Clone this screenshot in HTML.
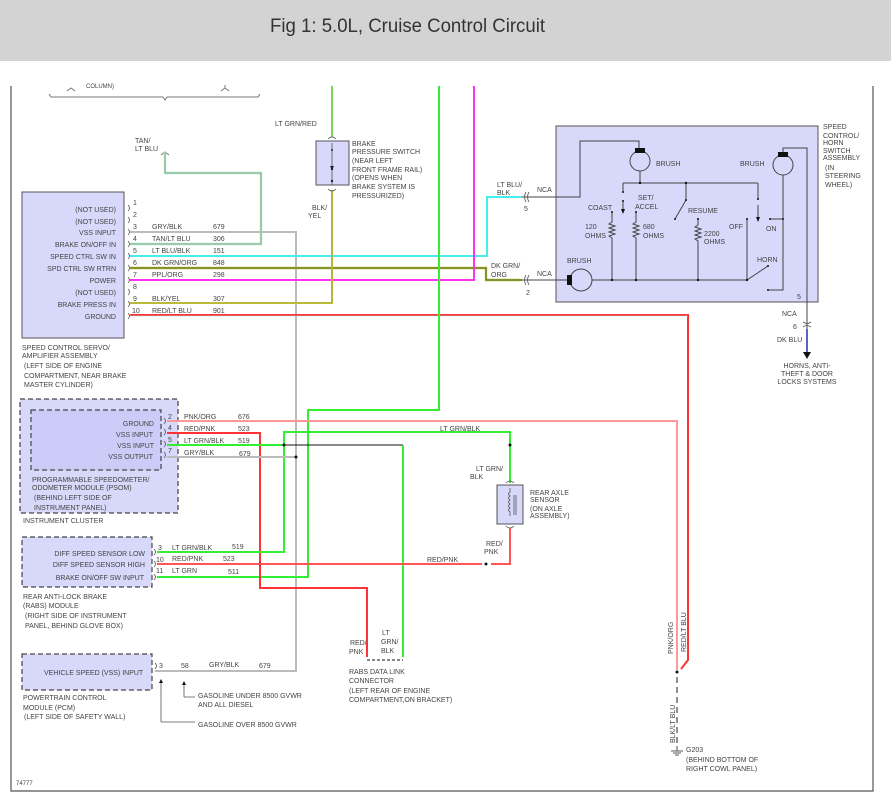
<!DOCTYPE html>
<html><head><meta charset="utf-8"><style>
html,body{margin:0;padding:0;background:#fff}
svg{display:block}
text{font-family:"Liberation Sans",sans-serif;font-size:7px;fill:#444}
</style></head><body>
<svg width="891" height="802" viewBox="0 0 891 802" xmlns="http://www.w3.org/2000/svg">
<rect x="0" y="0" width="891" height="61" fill="#d3d3d3"/>
<text x="270" y="32" style="font-size:19px;fill:#333" textLength="275" lengthAdjust="spacingAndGlyphs">Fig 1: 5.0L, Cruise Control Circuit</text>
<!-- frame -->
<path d="M11 86V791H873V86" fill="none" stroke="#555" stroke-width="1.2"/>

<!-- top bracket -->
<path d="M49 94l2 3H163l2 3 2-3H258l2-3" fill="none" stroke="#777" stroke-width="1"/>
<path d="M67 91l4-3 4 3M221 91l4-3 4 3M225 88v-3M161 155l4-3 4 3" fill="none" stroke="#777" stroke-width="1"/>
<text x="86" y="88" style="font-size:6px">COLUMN)</text>

<!-- servo box -->
<rect x="22" y="192" width="102" height="146" fill="#d8d8fb" stroke="#555" stroke-width="1"/>
<g text-anchor="end">
<text x="116" y="212">(NOT USED)</text><text x="116" y="224">(NOT USED)</text><text x="116" y="235">VSS INPUT</text>
<text x="116" y="247">BRAKE ON/OFF IN</text><text x="116" y="259">SPEED CTRL SW IN</text><text x="116" y="271">SPD CTRL SW RTRN</text>
<text x="116" y="283">POWER</text><text x="116" y="295">(NOT USED)</text><text x="116" y="307">BRAKE PRESS IN</text><text x="116" y="319">GROUND</text>
</g>
<g fill="none" stroke="#555" stroke-width="0.8">
<path d="M128 205q3 3 0 6M128 217q3 3 0 6M128 229q3 3 0 6M128 241q3 3 0 6M128 253q3 3 0 6M128 265q3 3 0 6M128 277q3 3 0 6M128 289q3 3 0 6M128 301q3 3 0 6M128 313q3 3 0 6"/>
</g>
<g>
<text x="133" y="205">1</text><text x="133" y="217">2</text><text x="133" y="229">3</text><text x="133" y="241">4</text><text x="133" y="253">5</text>
<text x="133" y="265">6</text><text x="133" y="277">7</text><text x="133" y="289">8</text><text x="133" y="301">9</text><text x="132" y="313">10</text>
<text x="152" y="229">GRY/BLK</text><text x="213" y="229">679</text>
<text x="152" y="241">TAN/LT BLU</text><text x="213" y="241">306</text>
<text x="152" y="253">LT BLU/BLK</text><text x="213" y="253">151</text>
<text x="152" y="265">DK GRN/ORG</text><text x="213" y="265">848</text>
<text x="152" y="277">PPL/ORG</text><text x="213" y="277">298</text>
<text x="152" y="301">BLK/YEL</text><text x="213" y="301">307</text>
<text x="152" y="313">RED/LT BLU</text><text x="213" y="313">901</text>
</g>
<text x="22" y="350">SPEED CONTROL SERVO/</text><text x="22" y="358">AMPLIFIER ASSEMBLY</text>
<text x="24" y="368">(LEFT SIDE OF ENGINE</text><text x="24" y="378">COMPARTMENT, NEAR BRAKE</text><text x="24" y="387">MASTER CYLINDER)</text>

<!-- wires from servo -->
<path d="M130 232H296V671H155" fill="none" stroke="#bbb" stroke-width="2"/>
<path d="M130 244H261V173H165V152" fill="none" stroke="#9ee" stroke-width="2.4"/>
<path d="M130 244H261V173H165V152" fill="none" stroke="#a98f3a" stroke-width="0.8"/>
<path d="M130 256H487V197H522" fill="none" stroke="#4ee" stroke-width="2"/>
<path d="M130 268H486V280H522" fill="none" stroke="#d8b040" stroke-width="2.4"/>
<path d="M130 268H486V280H522" fill="none" stroke="#2a7a1a" stroke-width="1"/>
<path d="M130 280H474V86" fill="none" stroke="#f3e" stroke-width="2"/>
<path d="M130 303H332V190" fill="none" stroke="#dd3" stroke-width="2"/>
<path d="M130 303H332V190" fill="none" stroke="#555" stroke-width="0.6"/>
<path d="M130 315H688V660L681 669" fill="none" stroke="#f33" stroke-width="2"/>
<path d="M130 316H688" fill="none" stroke="#9ee" stroke-width="0.6"/>
<!-- LT GRN/RED -->
<path d="M332 86V137" fill="none" stroke="#5e4" stroke-width="2"/>
<path d="M332 86V137" fill="none" stroke="#e88" stroke-width="0.5"/>
<text x="275" y="126">LT GRN/RED</text>
<text x="135" y="143">TAN/</text><text x="135" y="151">LT BLU</text>
<!-- brake switch -->
<rect x="316" y="141" width="33" height="44" fill="#d8d8fb" stroke="#555" stroke-width="1"/>
<path d="M328 139q4-4 8 0M328 189q4 4 8 0M332 143V185" fill="none" stroke="#555" stroke-width="0.8"/>
<circle cx="332" cy="169" r="1.2" fill="#222"/><circle cx="332" cy="181" r="1.2" fill="#222"/><circle cx="332" cy="150" r="1" fill="#222"/>
<path d="M330 166l2 4 2-4z" fill="#222"/>
<text x="352" y="146">BRAKE</text><text x="352" y="154">PRESSURE SWITCH</text><text x="352" y="163">(NEAR LEFT</text>
<text x="352" y="172">FRONT FRAME RAIL)</text><text x="352" y="180">(OPENS WHEN</text><text x="352" y="189">BRAKE SYSTEM IS</text><text x="352" y="198">PRESSURIZED)</text>
<text x="312" y="210">BLK/</text><text x="308" y="218">YEL</text>
<!-- green big -->
<path d="M439 86V410H308V577H157" fill="none" stroke="#3e3" stroke-width="2"/>

<!-- switch assembly -->
<rect x="556" y="126" width="262" height="176" fill="#d8d8fb" stroke="#555" stroke-width="1"/>
<g fill="none" stroke="#444" stroke-width="1">
<path d="M522 197H580V141H639V149"/>
<path d="M522 280H567"/>
<circle cx="640" cy="161" r="10"/>
<path d="M640 171V183M623 183H758M623 183V192M623 201V212"/>
<path d="M612 212V222l-3 2 6 2-6 2 6 2-6 2 6 2-6 2 3 2V280"/>
<path d="M636 212V222l-3 2 6 2-6 2 6 2-6 2 6 2-6 2 3 2V280"/>
<path d="M686 183V200L675 219"/>
<path d="M698 219V225l-3 2 6 2-6 2 6 2-6 2 6 2-6 2 3 2V280"/>
<path d="M747 219V280M592 280H747L768 266"/>
<path d="M758 183V199M758 205V220M770 219H783"/>
<circle cx="783" cy="165" r="10"/>
<circle cx="581" cy="280" r="11"/>
<path d="M783 153V148H807V358M783 175V290H768"/>
</g>
<rect x="635" y="148" width="10" height="5" fill="#111"/>
<rect x="778" y="152" width="10" height="5" fill="#111"/>
<rect x="567" y="275" width="5" height="10" fill="#111"/>
<path d="M621 209l2 5 2-5zM756 217l2 5 2-5z" fill="#111"/>
<g fill="#111">
<circle cx="640" cy="183" r="1.2"/><circle cx="686" cy="183" r="1.2"/><circle cx="623" cy="201" r="1"/><circle cx="623" cy="192" r="1"/>
<circle cx="612" cy="212" r="1"/><circle cx="636" cy="212" r="1"/><circle cx="686" cy="200" r="1"/><circle cx="675" cy="219" r="1"/>
<circle cx="698" cy="219" r="1"/><circle cx="747" cy="219" r="1"/><circle cx="758" cy="199" r="1"/><circle cx="770" cy="219" r="1"/><circle cx="783" cy="219" r="1"/>
<circle cx="612" cy="280" r="1.2"/><circle cx="636" cy="280" r="1.2"/><circle cx="698" cy="280" r="1.2"/><circle cx="747" cy="280" r="1.2"/>
<circle cx="768" cy="266" r="1"/><circle cx="768" cy="290" r="1"/>
</g>
<path d="M526 192q-3 5 0 10M529 192q-3 5 0 10M526 275q-3 5 0 10M529 275q-3 5 0 10" fill="none" stroke="#555" stroke-width="0.8"/>
<text x="656" y="166">BRUSH</text><text x="740" y="166">BRUSH</text><text x="567" y="263">BRUSH</text>
<text x="588" y="210">COAST</text><text x="638" y="200">SET/</text><text x="635" y="209">ACCEL</text><text x="688" y="213">RESUME</text>
<text x="585" y="229">120</text><text x="585" y="238">OHMS</text><text x="643" y="229">680</text><text x="643" y="238">OHMS</text>
<text x="704" y="236">2200</text><text x="704" y="244">OHMS</text><text x="729" y="229">OFF</text><text x="766" y="231">ON</text><text x="757" y="262">HORN</text>
<text x="797" y="299">5</text>
<text x="497" y="187">LT BLU/</text><text x="497" y="195">BLK</text><text x="537" y="192">NCA</text><text x="524" y="211">5</text>
<text x="491" y="268">DK GRN/</text><text x="491" y="277">ORG</text><text x="537" y="276">NCA</text><text x="526" y="295">2</text>
<text x="823" y="129">SPEED</text><text x="823" y="138">CONTROL/</text><text x="823" y="145">HORN</text><text x="823" y="153">SWITCH</text><text x="823" y="160">ASSEMBLY</text>
<text x="825" y="170">(IN</text><text x="825" y="178">STEERING</text><text x="825" y="187">WHEEL)</text>
<text x="782" y="316">NCA</text><text x="793" y="329">6</text><text x="777" y="342">DK BLU</text>
<path d="M803 322q4 3 8 0M803 327q4-3 8 0" fill="none" stroke="#555" stroke-width="0.8"/>
<path d="M807 329V352" stroke="#23a" stroke-width="1.5"/>
<path d="M803 352h8l-4 7z" fill="#111"/>
<g text-anchor="middle"><text x="807" y="368">HORNS, ANTI-</text><text x="807" y="376">THEFT &amp; DOOR</text><text x="807" y="384">LOCKS SYSTEMS</text></g>

<!-- PSOM -->
<rect x="20" y="399" width="158" height="114" fill="#d8d8fb" stroke="#444" stroke-width="1.2" stroke-dasharray="5,3"/>
<rect x="31" y="410" width="130" height="60" fill="#ccccf8" stroke="#444" stroke-width="1.2" stroke-dasharray="5,3"/>
<g text-anchor="end"><text x="154" y="426">GROUND</text><text x="153" y="437">VSS INPUT</text><text x="154" y="448">VSS INPUT</text><text x="153" y="459">VSS OUTPUT</text></g>
<path d="M164 418q3 3 0 6M164 429q3 3 0 6M164 441q3 3 0 6M164 452q3 3 0 6M155 663q3 3 0 6" fill="none" stroke="#555" stroke-width="0.8"/>
<text x="168" y="419">2</text><text x="168" y="430">4</text><text x="168" y="442">5</text><text x="168" y="453">7</text>
<text x="184" y="419">PNK/ORG</text><text x="238" y="419">676</text>
<text x="184" y="431">RED/PNK</text><text x="238" y="431">523</text>
<text x="184" y="443">LT GRN/BLK</text><text x="238" y="443">519</text>
<text x="184" y="455">GRY/BLK</text><text x="239" y="456">679</text>
<text x="32" y="482">PROGRAMMABLE SPEEDOMETER/</text><text x="32" y="490">ODOMETER MODULE (PSOM)</text>
<text x="34" y="500">(BEHIND LEFT SIDE OF</text><text x="34" y="510">INSTRUMENT PANEL)</text>
<text x="23" y="523">INSTRUMENT CLUSTER</text>

<path d="M167 421H677V670" fill="none" stroke="#f99" stroke-width="2"/>
<path d="M167 433H260V588H367V657" fill="none" stroke="#f33" stroke-width="2"/>
<path d="M167 445H284" fill="none" stroke="#3e3" stroke-width="2"/>
<path d="M284 445H403" fill="none" stroke="#111" stroke-width="1"/>
<path d="M403 445V657" fill="none" stroke="#3e3" stroke-width="2"/>
<path d="M284 445V432H510V483M284 445V552H157" fill="none" stroke="#3e3" stroke-width="2"/>
<path d="M167 457H296" fill="none" stroke="#bbb" stroke-width="2"/>
<circle cx="284" cy="445" r="1.5" fill="#111"/><circle cx="296" cy="457" r="1.5" fill="#111"/>
<circle cx="510" cy="445" r="1.5" fill="#111"/><circle cx="260" cy="564" r="1.5" fill="#111"/><circle cx="486" cy="564" r="1.5" fill="#111"/>
<text x="440" y="431">LT GRN/BLK</text>
<text x="476" y="471">LT GRN/</text><text x="470" y="479">BLK</text>

<!-- rear axle sensor -->
<rect x="497" y="485" width="26" height="39" fill="#d8d8fb" stroke="#555" stroke-width="1"/>
<path d="M506 483q4-4 8 0M506 526q4 4 8 0M510 488v4q-3 2 0 4q-3 2 0 4q-3 2 0 4q-3 2 0 4q-3 2 0 4v4M514 495v20M516 495v20" fill="none" stroke="#555" stroke-width="0.8"/>
<text x="530" y="495">REAR AXLE</text><text x="530" y="502">SENSOR</text><text x="530" y="511">(ON AXLE</text><text x="530" y="518">ASSEMBLY)</text>
<path d="M157 564H482M491 564H510V528" fill="none" stroke="#f55" stroke-width="2"/>
<text x="427" y="562">RED/PNK</text><text x="486" y="546">RED/</text><text x="484" y="554">PNK</text>

<!-- RABS -->
<rect x="22" y="537" width="130" height="50" fill="#d8d8fb" stroke="#444" stroke-width="1.2" stroke-dasharray="5,3"/>
<g text-anchor="end"><text x="145" y="556">DIFF SPEED SENSOR LOW</text><text x="145" y="567">DIFF SPEED SENSOR HIGH</text><text x="144" y="580">BRAKE ON/OFF SW INPUT</text></g>
<path d="M154 549q3 3 0 6M154 561q3 3 0 6M154 574q3 3 0 6" fill="none" stroke="#555" stroke-width="0.8"/>
<text x="158" y="550">3</text><text x="156" y="562">10</text><text x="156" y="573">11</text>
<text x="172" y="550">LT GRN/BLK</text><text x="232" y="549">519</text>
<text x="172" y="561">RED/PNK</text><text x="223" y="561">523</text>
<text x="172" y="573">LT GRN</text><text x="228" y="574">511</text>
<text x="23" y="599">REAR ANTI-LOCK BRAKE</text><text x="23" y="608">(RABS) MODULE</text>
<text x="25" y="618">(RIGHT SIDE OF INSTRUMENT</text><text x="25" y="628">PANEL, BEHIND GLOVE BOX)</text>

<!-- RABS data link -->
<path d="M367 660H403" stroke="#111" stroke-width="1" stroke-dasharray="3,2"/>
<text x="350" y="645">RED/</text><text x="349" y="654">PNK</text>
<text x="382" y="635">LT</text><text x="381" y="644">GRN/</text><text x="381" y="653">BLK</text>
<text x="349" y="674">RABS DATA LINK</text><text x="349" y="683">CONNECTOR</text>
<text x="349" y="693">(LEFT REAR OF ENGINE</text><text x="349" y="702">COMPARTMENT,ON BRACKET)</text>

<!-- PCM -->
<rect x="22" y="654" width="130" height="36" fill="#d8d8fb" stroke="#444" stroke-width="1.2" stroke-dasharray="5,3"/>
<text x="44" y="675">VEHICLE SPEED (VSS) INPUT</text>
<text x="159" y="668">3</text><text x="181" y="668">58</text><text x="209" y="667">GRY/BLK</text><text x="259" y="668">679</text>
<path d="M161 722V682M161 722H195M184 697V684M184 697H195" fill="none" stroke="#555" stroke-width="0.8"/>
<path d="M159 683l2-4 2 4zM182 685l2-4 2 4z" fill="#111"/>
<text x="198" y="698">GASOLINE UNDER 8500 GVWR</text><text x="198" y="707">AND ALL DIESEL</text><text x="198" y="727">GASOLINE OVER 8500 GVWR</text>
<text x="23" y="700">POWERTRAIN CONTROL</text><text x="23" y="710">MODULE (PCM)</text><text x="24" y="719">(LEFT SIDE OF SAFETY WALL)</text>
<text x="16" y="785" style="font-size:6px">74777</text>

<!-- ground -->
<circle cx="677" cy="672" r="1.5" fill="#111"/>
<path d="M677 677V743" stroke="#222" stroke-width="1" stroke-dasharray="6,4"/>
<path d="M677 746V751M671 751h12M673 753h8M675 755h4" stroke="#222" stroke-width="0.8" fill="none"/>
<text transform="translate(673,654) rotate(-90)">PNK/ORG</text>
<text transform="translate(686,652) rotate(-90)">RED/LT BLU</text>
<text transform="translate(675,743) rotate(-90)">BLK/LT BLU</text>
<text x="686" y="752">G203</text><text x="686" y="762">(BEHIND BOTTOM OF</text><text x="686" y="771">RIGHT COWL PANEL)</text>
</svg>
</body></html>
